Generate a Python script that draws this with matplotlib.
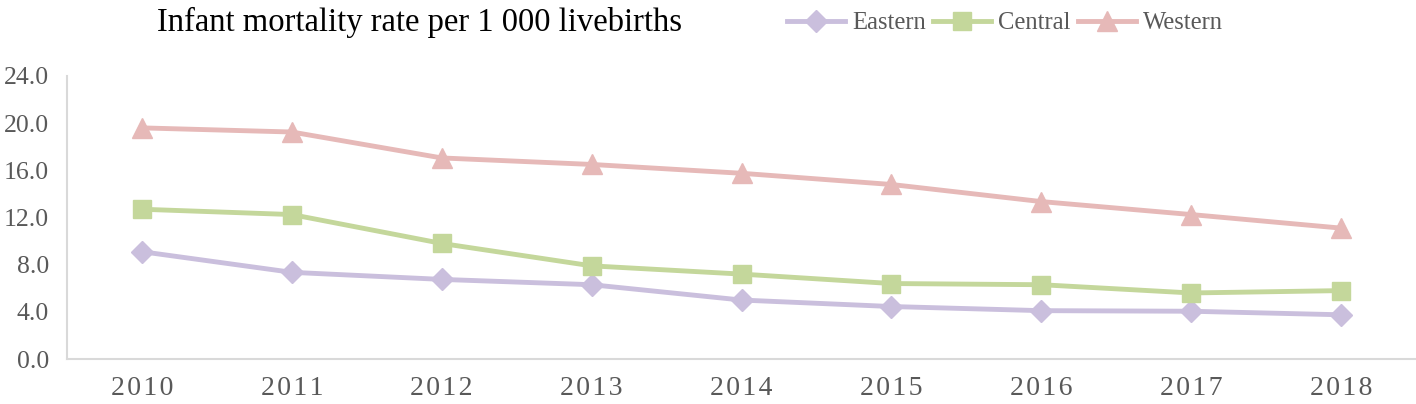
import matplotlib
matplotlib.use("Agg")
import matplotlib.pyplot as plt

years = ["2010", "2011", "2012", "2013", "2014", "2015", "2016", "2017", "2018"]
eastern = [9.1, 7.35, 6.75, 6.3, 5.0, 4.45, 4.1, 4.05, 3.75]
central = [12.7, 12.25, 9.8, 7.9, 7.2, 6.4, 6.3, 5.6, 5.8]
western = [19.6, 19.25, 17.05, 16.5, 15.75, 14.8, 13.35, 12.25, 11.1]
yticks = [0, 4, 8, 12, 16, 20, 24]

plt.rcParams['font.family'] = ['Liberation Serif', 'DejaVu Serif']

fig = plt.figure(figsize=(14.16, 4.04), dpi=100)
ax = fig.add_axes([67 / 1416, 1 - 359 / 404, 1 - 67 / 1416, (359 - 76) / 404])

x = list(range(len(years)))
ax.plot(x, eastern, color='#CABFDD', lw=3.5, marker='D', ms=11, label='Eastern')
ax.plot(x, central, color='#C4D79B', lw=3.5, marker='s', ms=13, label='Central')
ax.plot(x, western, color='#E6B9B8', lw=3.5, marker='^', ms=14, label='Western')

ax.set_xlim(-0.5, len(years) - 0.5)
ax.set_ylim(0, 24)
ax.set_yticks(yticks)
ax.set_yticklabels(['%.1f' % v for v in yticks], fontsize=18.5, color='#595959')
ax.set_xticks(x)
ax.set_xticklabels(['\u200a'.join(y) for y in years], fontsize=20, color='#595959')
ax.tick_params(length=0)
ax.tick_params(axis='y', pad=13)
ax.tick_params(axis='x', pad=12)

for s in ['top', 'right']:
    ax.spines[s].set_visible(False)
for s in ['left', 'bottom']:
    ax.spines[s].set_color('#D9D9D9')
    ax.spines[s].set_linewidth(1.5)

fig.text(157 / 1416, 1 - 22 / 404, 'Infant mortality rate per 1 000 livebirths',
         fontsize=23.5, va='center', ha='left', color='black')

leg = fig.legend(loc='center left', bbox_to_anchor=(787 / 1416, 1 - 23 / 404), ncol=3,
                 frameon=False, fontsize=17.7, handlelength=2.35, handletextpad=0.3,
                 columnspacing=0.3, borderpad=0, borderaxespad=0)
for t in leg.get_texts():
    t.set_color('#595959')

fig.savefig('out.png', dpi=100)
